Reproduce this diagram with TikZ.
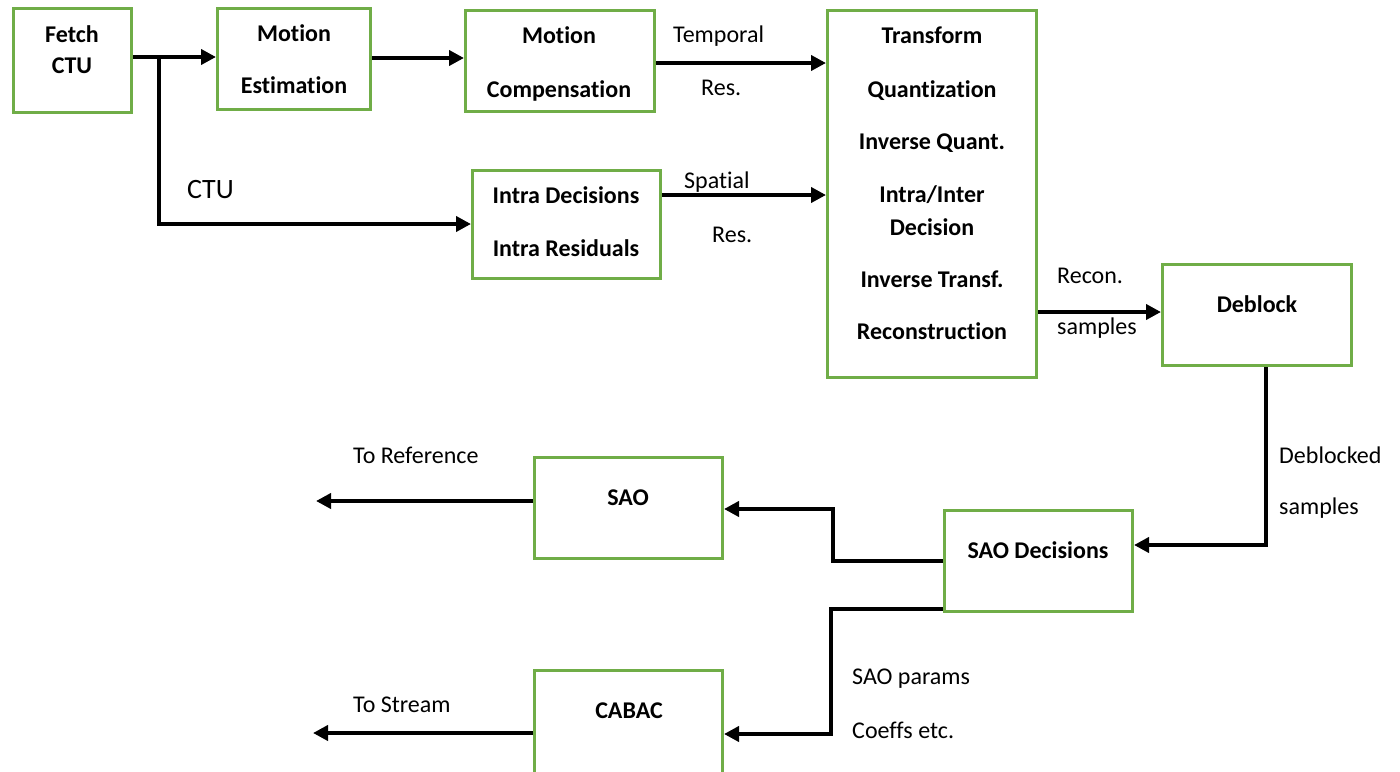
\documentclass[tikz,border=0pt]{standalone}
\usepackage{fontspec}
\setmainfont{Carlito}[Ligatures=NoCommon]
\usetikzlibrary{arrows.meta}
\definecolor{boxgreen}{HTML}{70AD47}
\begin{document}
\begin{tikzpicture}[x=1pt,y=-1pt,
  box/.style={draw=boxgreen,line width=3pt,fill=none,inner sep=0pt,rectangle},
  conn/.style={line width=4pt,draw=black},
  arr/.style={conn,-{Triangle[length=15pt,width=15pt]}},
  btxt/.style={inner sep=0pt,anchor=base,font=\fontsize{24pt}{29pt}\selectfont\bfseries},
  ltxt/.style={inner sep=0pt,anchor=base west,font=\fontsize{24pt}{29pt}\selectfont}]
\useasboundingbox (0,0) rectangle (1400,771);
% boxes
\node[box,minimum width=118pt,minimum height=104pt] (fetch) at (72.5,60.5) {};
\node[box,minimum width=153pt,minimum height=101pt] (me) at (294,59) {};
\node[box,minimum width=189pt,minimum height=101pt] (mc) at (560,61) {};
\node[box,minimum width=188pt,minimum height=108pt] (intra) at (566.5,224.5) {};
\node[box,minimum width=209pt,minimum height=367pt] (tq) at (932,194) {};
\node[box,minimum width=189pt,minimum height=101pt] (deblock) at (1257,315) {};
\node[box,minimum width=188pt,minimum height=101pt] (saodec) at (1038.5,561) {};
\node[box,minimum width=188pt,minimum height=101pt] (sao) at (628.5,508) {};
\node[box,minimum width=188pt,minimum height=120pt] (cabac) at (628.5,730) {};
% box texts
\node[btxt] (t1a) at (72,42) {Fetch};
\node[btxt] (t1b) at (72,73) {CTU};
\node[btxt] (t2a) at (294,41) {Motion};
\node[btxt] (t2b) at (294,93) {Estimation};
\node[btxt] (t3a) at (559,43) {Motion};
\node[btxt] (t3b) at (559,97) {Compensation};
\node[btxt] (t4a) at (566,203) {Intra Decisions};
\node[btxt] (t4b) at (566,256) {Intra Residuals};
\node[btxt] (t5a) at (932,43) {Transform};
\node[btxt] (t5b) at (932,97) {Quantization};
\node[btxt] (t5c) at (932,149) {Inverse Quant.};
\node[btxt] (t5d) at (932,202) {Intra/Inter};
\node[btxt] (t5e) at (932,235) {Decision};
\node[btxt] (t5f) at (932,287) {Inverse Transf.};
\node[btxt] (t5g) at (932,339) {Reconstruction};
\node[btxt] (t6) at (1257,312) {Deblock};
\node[btxt] (t7) at (1038,558) {SAO Decisions};
\node[btxt] (t8) at (628,505) {SAO};
\node[btxt] (t9) at (629,718) {CABAC};
% connector labels
\node[ltxt,font=\fontsize{28pt}{34pt}\selectfont] (lctu) at (187,198) {CTU};
\node[ltxt] (ltemp) at (673,42) {Temporal};
\node[ltxt] (lres1) at (701,95) {Res.};
\node[ltxt] (lspat) at (684,188) {Spatial};
\node[ltxt] (lres2) at (712,242) {Res.};
\node[ltxt] (lrecon) at (1057,283) {Recon.};
\node[ltxt] (lsamp1) at (1057,334) {samples};
\node[ltxt] (ldebl) at (1279,463) {Deblocked};
\node[ltxt] (lsamp2) at (1279,514) {samples};
\node[ltxt] (lref) at (353,463) {To Reference};
\node[ltxt] (lstream) at (353,712) {To Stream};
\node[ltxt] (lsaop) at (852,684) {SAO params};
\node[ltxt] (lcoef) at (852,738) {Coeffs etc.};
% free ends
\coordinate (br) at (159,57);
\coordinate (outref) at (316,501);
\coordinate (outstream) at (313,733);
% connectors
\draw[arr] (fetch.east |- 0,57) -- (me.west |- 0,57);
\draw[arr] (br) |- (intra.west |- 0,224);
\draw[arr] (me.east |- 0,58) -- (mc.west |- 0,58);
\draw[arr] (mc.east |- 0,63) -- (tq.west |- 0,63);
\draw[arr] (intra.east |- 0,195) -- (tq.west |- 0,195);
\draw[arr] (tq.east |- 0,312) -- (deblock.west |- 0,312);
\draw[arr] (deblock.south -| 1266,0) |- (saodec.east |- 0,545);
\draw[arr] (saodec.west |- 0,561) -| (833,509) -- (sao.east |- 0,509);
\draw[arr] (saodec.west |- 0,609) -| (831,734) -- (cabac.east |- 0,734);
\draw[arr] (sao.west |- 0,501) -- (outref);
\draw[arr] (cabac.west |- 0,733) -- (outstream);
\end{tikzpicture}
\end{document}
